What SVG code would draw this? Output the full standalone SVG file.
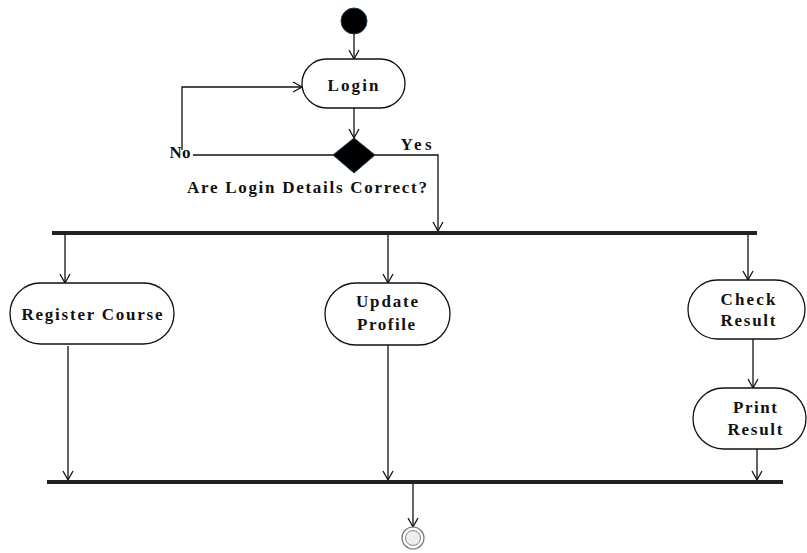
<svg xmlns="http://www.w3.org/2000/svg" width="807" height="553" viewBox="0 0 807 553">
<style>
.n{fill:#fff;stroke:#111;stroke-width:1.3}
.t{font-family:"Liberation Serif",serif;font-weight:bold;font-size:17px;fill:#111;text-anchor:middle}
.c{fill:none;stroke:#111;stroke-width:1.3}
.bar{fill:#222}
</style>
<defs>
<marker id="a" markerUnits="userSpaceOnUse" markerWidth="14" markerHeight="14" refX="10" refY="6" orient="auto">
<path d="M1,1 L10,6 L1,11" fill="none" stroke="#111" stroke-width="1.3"/>
</marker>
</defs>
<g id="connectors">
<path class="c" d="M354,34 V59" marker-end="url(#a)"/>
<path class="c" d="M354,108 V138" marker-end="url(#a)"/>
<path class="c" d="M334,155 H193"/>
<path class="c" d="M182,150 V87 H302" marker-end="url(#a)"/>
<path class="c" d="M375,155 H438 V231" marker-end="url(#a)"/>
<path class="c" d="M65,234 V283" marker-end="url(#a)"/>
<path class="c" d="M388,234 V283" marker-end="url(#a)"/>
<path class="c" d="M748,234 V280" marker-end="url(#a)"/>
<path class="c" d="M753,339 V388" marker-end="url(#a)"/>
<path class="c" d="M68,346 V480" marker-end="url(#a)"/>
<path class="c" d="M388,345 V480" marker-end="url(#a)"/>
<path class="c" d="M757,449 V480" marker-end="url(#a)"/>
<path class="c" d="M413,484 V527" marker-end="url(#a)"/>
</g>
<g id="start"><circle cx="354" cy="21" r="13" fill="#000" stroke="#1a3a55" stroke-width="1"/></g>
<g id="login"><rect class="n" x="302" y="59" width="103" height="49" rx="24.5"/><text class="t" x="353" y="91" textLength="51" lengthAdjust="spacing">Login</text></g>
<g id="decision"><path d="M354,138 L375,155 L354,173 L333,155 Z" fill="#000" stroke="#1a3a55" stroke-width="1"/>
<text class="t" x="307" y="193" textLength="240" lengthAdjust="spacing">Are Login Details Correct?</text>
<text class="t" x="416" y="150" textLength="31" lengthAdjust="spacing">Yes</text>
<text class="t" x="180" y="158">No</text></g>
<g id="fork"><rect class="bar" x="52" y="231" width="705" height="4"/></g>
<g id="register"><rect class="n" x="10" y="283" width="164" height="61" rx="30.5"/><text class="t" x="92" y="320" textLength="141" lengthAdjust="spacing">Register Course</text></g>
<g id="update"><rect class="n" x="325" y="283" width="125" height="62" rx="31"/><text class="t" x="387" y="307" textLength="62" lengthAdjust="spacing">Update</text><text class="t" x="386" y="330" textLength="58" lengthAdjust="spacing">Profile</text></g>
<g id="check"><rect class="n" x="688" y="280" width="117" height="59" rx="29.5"/><text class="t" x="748" y="305" textLength="55" lengthAdjust="spacing">Check</text><text class="t" x="748" y="326" textLength="55" lengthAdjust="spacing">Result</text></g>
<g id="print"><rect class="n" x="693" y="388" width="113" height="61" rx="30.5"/><text class="t" x="755" y="413" textLength="44" lengthAdjust="spacing">Print</text><text class="t" x="755" y="435" textLength="55" lengthAdjust="spacing">Result</text></g>
<g id="join"><rect class="bar" x="47" y="480" width="736" height="4"/></g>
<g id="end"><circle cx="413" cy="538" r="11" fill="#fff" stroke="#777" stroke-width="1.2"/><circle cx="413" cy="538" r="7.5" fill="#eee" stroke="#888" stroke-width="1"/></g>
</svg>
